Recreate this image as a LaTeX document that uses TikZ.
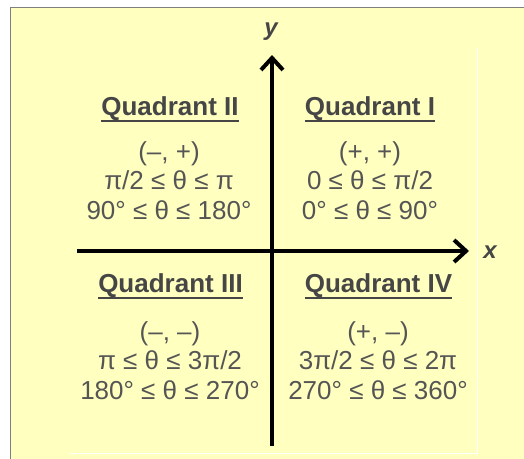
\documentclass[tikz,border=0pt]{standalone}
\usepackage{fontspec}
\setmainfont{Liberation Sans}
\usetikzlibrary{arrows.meta}
\definecolor{figYellow}{HTML}{FFFFC0}
\definecolor{figFrame}{HTML}{7F7F7F}
\definecolor{figText}{HTML}{555555}
\definecolor{figHead}{HTML}{464646}

\begin{document}
\begin{tikzpicture}[x=1pt, y=-1pt,
  every node/.style={inner sep=0pt},
  quadhead/.style={font=\fontsize{26}{30}\selectfont\bfseries, text=figHead, anchor=base},
  quadtext/.style={font=\fontsize{26}{29.5}\selectfont, text=figText, align=center, anchor=north},
  headline/.style={line width=2pt, figHead},
  axis/.style={line width=4pt, -{Straight Barb[length=12pt,width=22pt]}},
  axlabel/.style={font=\fontsize{24}{24}\selectfont\bfseries\itshape, text=figHead, anchor=base},
]
\useasboundingbox (0,0) rectangle (524,458);

% Frame
\fill[white] (0,0) rectangle (524,458);
\begin{scope}
  \clip (0,0) rectangle (524,458);
  \draw[figFrame, fill=figYellow] (10,7) rectangle (540,475);
\end{scope}
\draw[white, line width=1pt] (477,48) -- (477,453) -- (70,453);

% Axes
\coordinate (ybot) at (272,446);
\coordinate (ytop) at (272,55);
\coordinate (xleft) at (77,251);
\coordinate (xright) at (469,251);
\draw[axis] (ybot) -- (ytop);
\draw[axis] (xleft) -- (xright);
\node[axlabel] (ylab) at (271,35) {y};
\node[axlabel] (xlab) at (490,258) {x};

% Headings
\node[quadhead] (q2) at (170,115) {Quadrant II};
\node[quadhead] (q1) at (370,115) {Quadrant I};
\node[quadhead] (q3) at (170.5,292) {Quadrant III};
\node[quadhead] (q4) at (378.5,292) {Quadrant IV};
\foreach \q in {q1,q2,q3,q4}
  \draw[headline] ([yshift=-5.5pt]\q.base west) -- ([yshift=-5.5pt]\q.base east);

% Ranges
\node[quadtext] (r2) at (169,141) {(–, +)\\π/2 ≤ θ ≤ π\\90° ≤ θ ≤ 180°};
\node[quadtext] (r1) at (370,141) {(+, +)\\0 ≤ θ ≤ π/2\\0° ≤ θ ≤ 90°};
\node[quadtext] (r3) at (170,321) {(–, –)\\π ≤ θ ≤ 3π/2\\180° ≤ θ ≤ 270°};
\node[quadtext] (r4) at (378,321) {(+, –)\\3π/2 ≤ θ ≤ 2π\\270° ≤ θ ≤ 360°};

\end{tikzpicture}
\end{document}
